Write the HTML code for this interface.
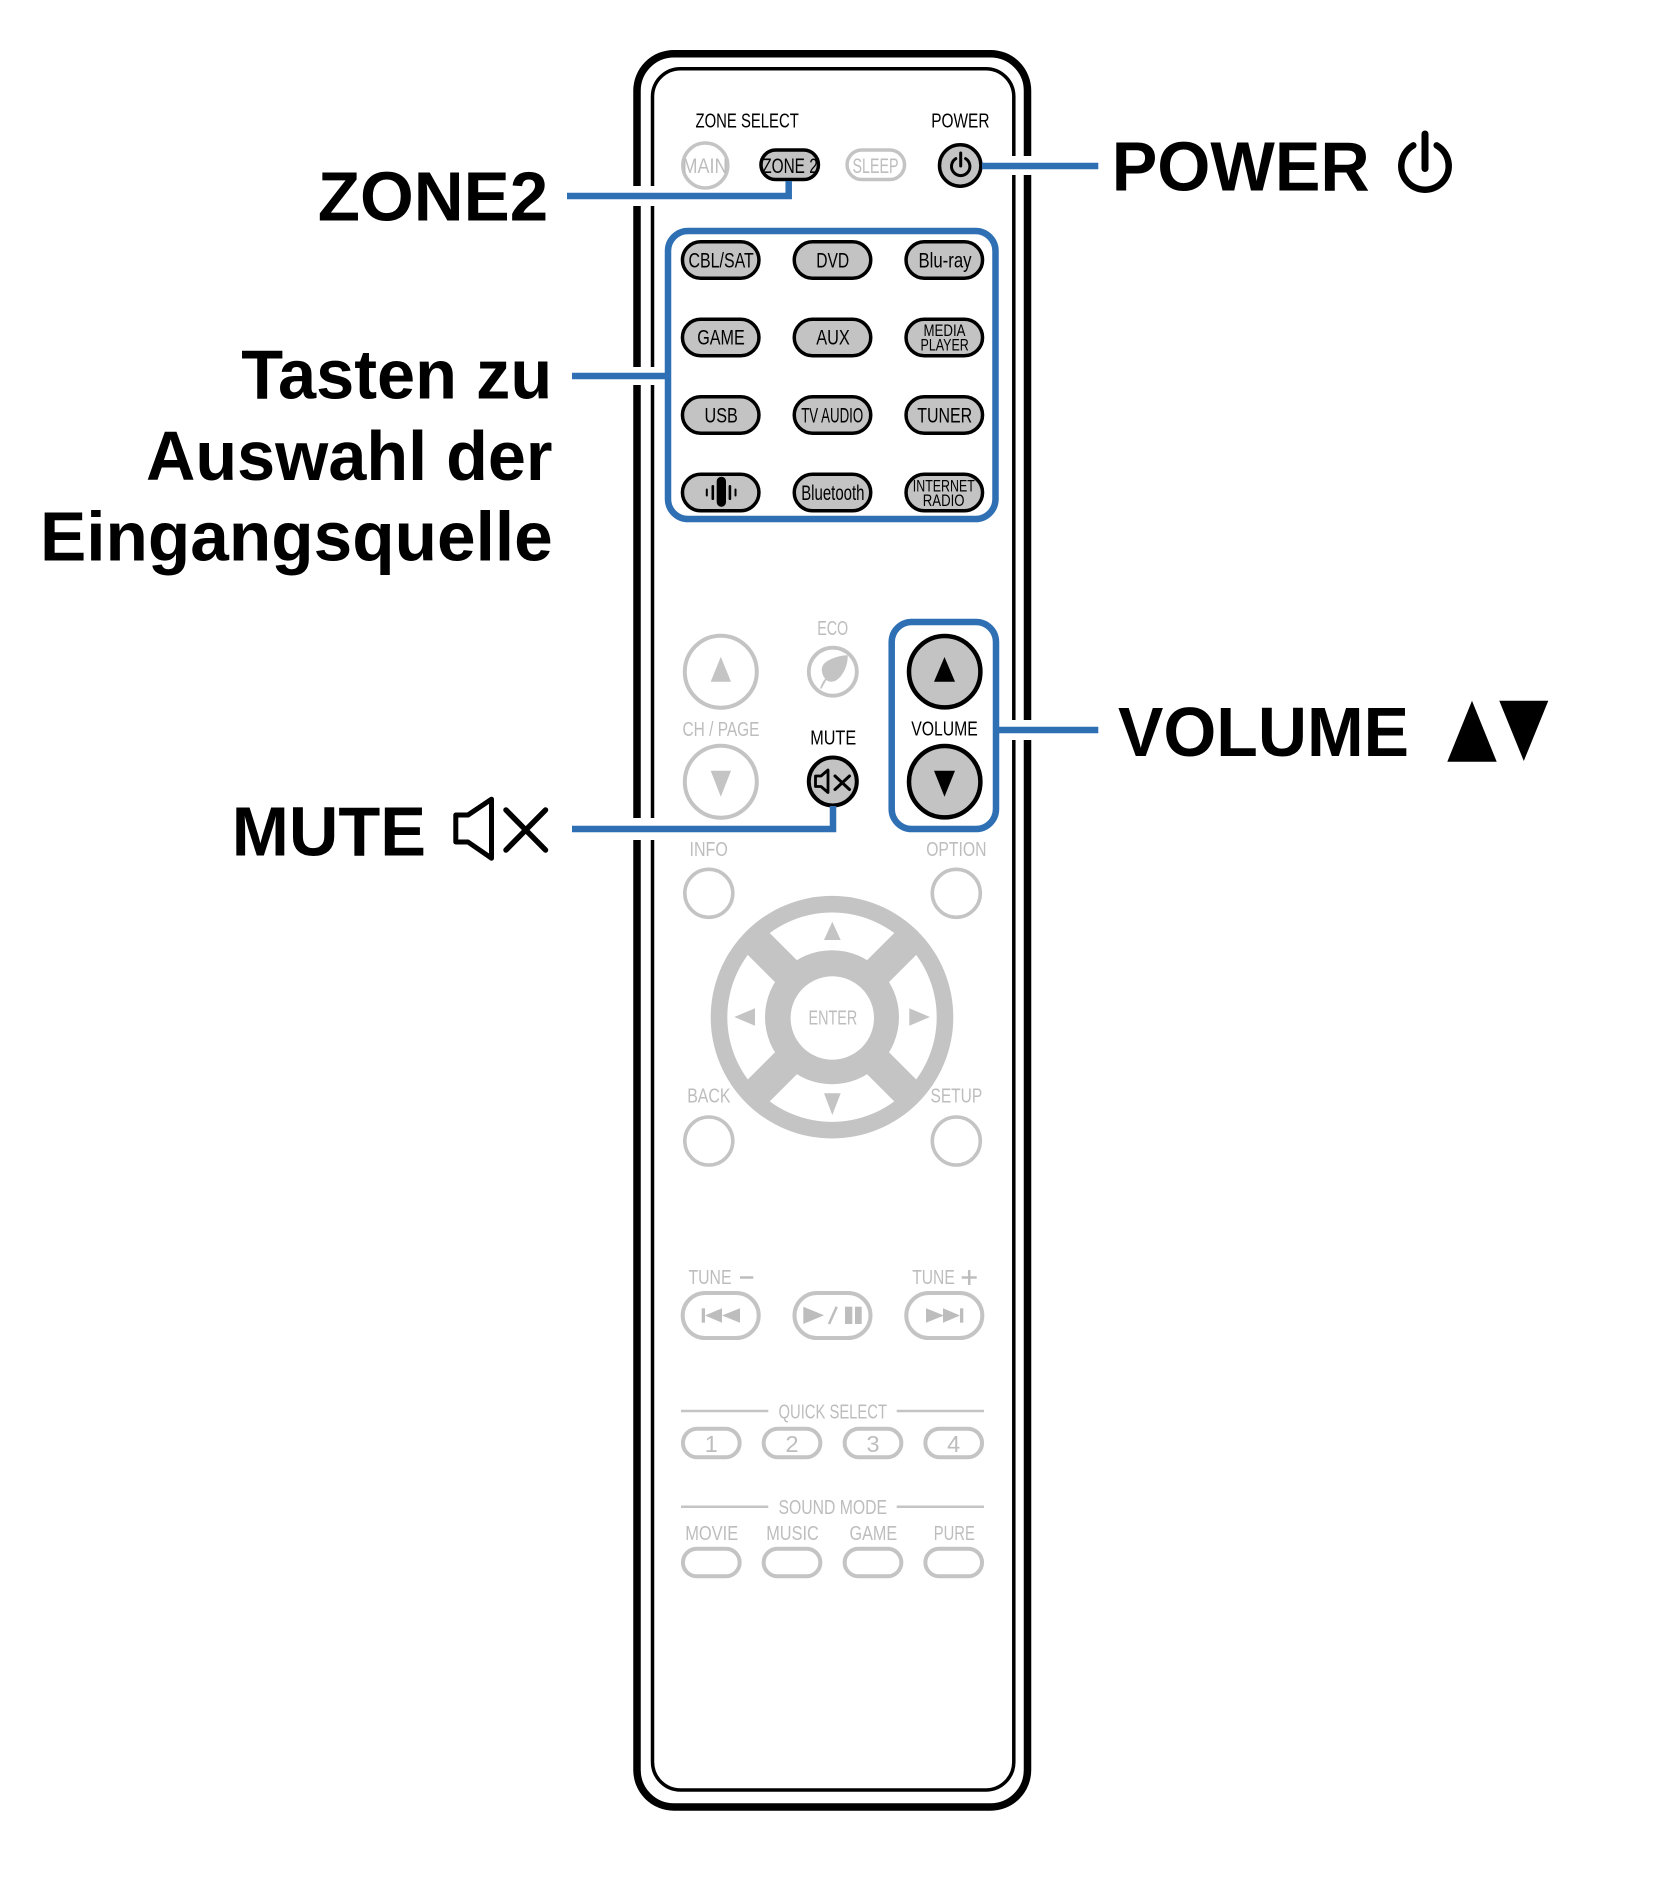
<!DOCTYPE html>
<html><head><meta charset="utf-8">
<style>
html,body{margin:0;padding:0;background:#fff;}
svg{display:block;}
.big{font-family:"Liberation Sans",Arial,sans-serif;font-weight:bold;font-size:70px;fill:#000;}
.s{font-family:"Liberation Sans Narrow","Liberation Sans",sans-serif;font-size:20px;}
.b{font-family:"Liberation Sans Narrow","Liberation Sans",sans-serif;font-size:21.5px;fill:#000;}
.k{fill:#000}
.g{fill:#bdbdbd}
</style></head><body>
<svg width="1665" height="1878" viewBox="0 0 1665 1878" xmlns="http://www.w3.org/2000/svg">
<rect width="1665" height="1878" fill="#fff"/>

<!-- Remote body -->
<rect x="637" y="53.7" width="390.5" height="1753.3" rx="37" fill="#fff" stroke="#000" stroke-width="7.5"/>
<rect x="652.5" y="68.7" width="361.3" height="1721.3" rx="28" fill="none" stroke="#000" stroke-width="3.5"/>

<!-- gaps where connectors cross border -->
<g fill="#fff">
<rect x="628" y="186" width="32" height="20"/>
<rect x="628" y="367" width="32" height="18"/>
<rect x="628" y="818" width="32" height="22"/>
<rect x="1007" y="156" width="30" height="19"/>
<rect x="1007" y="720" width="30" height="20"/>
</g>

<!-- Top labels -->
<text class="s k" x="695.5" y="127.3" textLength="103.3" lengthAdjust="spacingAndGlyphs">ZONE SELECT</text>
<text class="s k" x="931.2" y="127.3" textLength="58.3" lengthAdjust="spacingAndGlyphs">POWER</text>

<!-- Top buttons -->
<circle cx="705.3" cy="165.5" r="22.5" fill="#fff" stroke="#c4c4c4" stroke-width="3.5"/>
<text class="b g" x="682.5" y="173" textLength="45" lengthAdjust="spacingAndGlyphs">MAIN</text>
<rect x="760.95" y="150.05" width="57.5" height="29.5" rx="14.75" fill="#c3c3c3" stroke="#000" stroke-width="3.5"/>
<text class="b" x="762.2" y="173" textLength="55.6" lengthAdjust="spacingAndGlyphs">ZONE 2</text>
<rect x="847.05" y="150.05" width="57.5" height="29.5" rx="14.75" fill="#fff" stroke="#c4c4c4" stroke-width="3.5"/>
<text class="b g" x="852.5" y="173" textLength="46" lengthAdjust="spacingAndGlyphs">SLEEP</text>
<circle cx="960.2" cy="165.5" r="20.7" fill="#c3c3c3" stroke="#000" stroke-width="3.5"/>
<path d="M955.8,158.6 A9.2,9.2 0 1 0 965.6,158.6" fill="none" stroke="#000" stroke-width="3" stroke-linecap="round"/>
<line x1="960.7" y1="153" x2="960.7" y2="166" stroke="#000" stroke-width="3" stroke-linecap="round"/>

<!-- Input buttons -->
<g fill="#c3c3c3" stroke="#000" stroke-width="3.5">
<rect x="682.45" y="241.75" width="76.5" height="36.5" rx="18.25"/>
<rect x="794.25" y="241.75" width="76.5" height="36.5" rx="18.25"/>
<rect x="906.05" y="241.75" width="76.5" height="36.5" rx="18.25"/>
<rect x="682.45" y="319.25" width="76.5" height="36.5" rx="18.25"/>
<rect x="794.25" y="319.25" width="76.5" height="36.5" rx="18.25"/>
<rect x="906.05" y="319.25" width="76.5" height="36.5" rx="18.25"/>
<rect x="682.45" y="396.75" width="76.5" height="36.5" rx="18.25"/>
<rect x="794.25" y="396.75" width="76.5" height="36.5" rx="18.25"/>
<rect x="906.05" y="396.75" width="76.5" height="36.5" rx="18.25"/>
<rect x="682.45" y="474.25" width="76.5" height="36.5" rx="18.25"/>
<rect x="794.25" y="474.25" width="76.5" height="36.5" rx="18.25"/>
<rect x="906.05" y="474.25" width="76.5" height="36.5" rx="18.25"/>
</g>
<text class="b" x="688.5" y="267.7" textLength="65.3" lengthAdjust="spacingAndGlyphs">CBL/SAT</text>
<text class="b" x="816.2" y="267.7" textLength="33" lengthAdjust="spacingAndGlyphs">DVD</text>
<text class="b" x="918.5" y="267.7" textLength="53" lengthAdjust="spacingAndGlyphs">Blu-ray</text>
<text class="b" x="697.2" y="344.3" textLength="47.6" lengthAdjust="spacingAndGlyphs">GAME</text>
<text class="b" x="816.2" y="344.3" textLength="33.6" lengthAdjust="spacingAndGlyphs">AUX</text>
<text class="b" style="font-size:16.5px" x="923.5" y="336" textLength="42" lengthAdjust="spacingAndGlyphs">MEDIA</text>
<text class="b" style="font-size:16.5px" x="920.5" y="350.7" textLength="48.3" lengthAdjust="spacingAndGlyphs">PLAYER</text>
<text class="b" x="704.5" y="422.3" textLength="33.3" lengthAdjust="spacingAndGlyphs">USB</text>
<text class="b" x="801.2" y="422.3" textLength="62" lengthAdjust="spacingAndGlyphs">TV AUDIO</text>
<text class="b" x="917.2" y="422.3" textLength="55" lengthAdjust="spacingAndGlyphs">TUNER</text>
<text class="b" x="801.2" y="500" textLength="63.3" lengthAdjust="spacingAndGlyphs">Bluetooth</text>
<text class="b" style="font-size:17px" x="912.8" y="491.7" textLength="62" lengthAdjust="spacingAndGlyphs">INTERNET</text>
<text class="b" style="font-size:17px" x="922.8" y="506" textLength="41.7" lengthAdjust="spacingAndGlyphs">RADIO</text>
<!-- icon button -->
<g fill="#000">
<rect x="716.7" y="476.7" width="9.3" height="30" rx="4.6"/>
<rect x="711.5" y="485" width="2.6" height="15" rx="1.3"/>
<rect x="705.8" y="488.5" width="2" height="8" rx="1"/>
<rect x="728.6" y="485" width="2.6" height="15" rx="1.3"/>
<rect x="734.5" y="488.5" width="2" height="8" rx="1"/>
</g>

<!-- ECO / CH / MUTE / VOLUME -->
<text class="s g" x="817.2" y="635" textLength="31" lengthAdjust="spacingAndGlyphs">ECO</text>
<circle cx="832.8" cy="671.7" r="24" fill="#fff" stroke="#c4c4c4" stroke-width="3.8"/>
<path d="M821,688 Q823,682 826,679 Q817,666 831,660 Q840,656 847,656 Q847,667 840,676 Q833,684 826,679 Z" fill="#c4c4c4" stroke="#c4c4c4" stroke-width="1.5" stroke-linejoin="round"/>

<circle cx="720.8" cy="671.7" r="36" fill="#fff" stroke="#c4c4c4" stroke-width="4"/>
<polygon points="710.7,681.7 731,681.7 720.8,656.7" fill="#c4c4c4"/>
<text class="s g" x="682.5" y="736" textLength="77" lengthAdjust="spacingAndGlyphs">CH / PAGE</text>
<circle cx="720.8" cy="781.7" r="36" fill="#fff" stroke="#c4c4c4" stroke-width="4"/>
<polygon points="710.7,770.7 731,770.7 720.8,796.7" fill="#c4c4c4"/>

<text class="s k" x="810.2" y="744.3" textLength="46" lengthAdjust="spacingAndGlyphs">MUTE</text>
<circle cx="832.8" cy="781.5" r="24" fill="#c3c3c3" stroke="#000" stroke-width="4"/>
<path d="M815.5,776 H821 L828,770 V792.5 L821,786.5 H815.5 Z" fill="none" stroke="#000" stroke-width="2.8" stroke-linejoin="round"/>
<g stroke="#000" stroke-width="3" stroke-linecap="round"><line x1="835" y1="776" x2="849.5" y2="789.5"/><line x1="849.5" y1="776" x2="835" y2="789.5"/></g>

<circle cx="944.7" cy="671.7" r="35.7" fill="#c3c3c3" stroke="#000" stroke-width="4.5"/>
<polygon points="934,681.7 955,681.7 944.5,657" fill="#000"/>
<text class="s k" x="911.2" y="735.7" textLength="66.6" lengthAdjust="spacingAndGlyphs">VOLUME</text>
<circle cx="944.7" cy="781.7" r="35.7" fill="#c3c3c3" stroke="#000" stroke-width="4.5"/>
<polygon points="934,770.7 955,770.7 944.5,796.7" fill="#000"/>

<!-- INFO / OPTION -->
<text class="s g" x="689.5" y="856" textLength="38.3" lengthAdjust="spacingAndGlyphs">INFO</text>
<text class="s g" x="926.2" y="856" textLength="60.3" lengthAdjust="spacingAndGlyphs">OPTION</text>
<circle cx="708.8" cy="893.3" r="24" fill="#fff" stroke="#c4c4c4" stroke-width="3.6"/>
<circle cx="956.3" cy="893.3" r="24" fill="#fff" stroke="#c4c4c4" stroke-width="3.6"/>

<!-- Nav pad -->
<circle cx="832" cy="1017.2" r="121.3" fill="#c4c4c4"/>
<circle cx="832" cy="1017.2" r="104.7" fill="#fff"/>
<g stroke="#c4c4c4" stroke-width="31">
<line x1="754.2" y1="939.4" x2="909.8" y2="1095"/>
<line x1="909.8" y1="939.4" x2="754.2" y2="1095"/>
</g>
<circle cx="832" cy="1017.2" r="67" fill="#c4c4c4"/>
<circle cx="832.3" cy="1018" r="41.7" fill="#fff"/>
<g fill="#c4c4c4">
<polygon points="824,940 840.7,940 832.3,921.7"/>
<polygon points="824,1093.3 840.7,1093.3 832.3,1115"/>
<polygon points="755,1008.3 755,1025.7 734.3,1017"/>
<polygon points="909.3,1008.3 909.3,1025.7 930,1017"/>
</g>
<text class="s g" x="808.5" y="1024.3" textLength="48.7" lengthAdjust="spacingAndGlyphs">ENTER</text>

<!-- BACK / SETUP -->
<text class="s g" x="687.2" y="1102.7" textLength="43.3" lengthAdjust="spacingAndGlyphs">BACK</text>
<text class="s g" x="930.5" y="1102.7" textLength="51.7" lengthAdjust="spacingAndGlyphs">SETUP</text>
<circle cx="708.8" cy="1141" r="24" fill="#fff" stroke="#c4c4c4" stroke-width="3.6"/>
<circle cx="956.3" cy="1141" r="24" fill="#fff" stroke="#c4c4c4" stroke-width="3.6"/>

<!-- TUNE -->
<text class="s g" x="688.5" y="1284" textLength="43" lengthAdjust="spacingAndGlyphs">TUNE</text>
<line x1="740" y1="1277.5" x2="753.3" y2="1277.5" stroke="#bdbdbd" stroke-width="2.5"/>
<text class="s g" x="912.2" y="1284" textLength="42.6" lengthAdjust="spacingAndGlyphs">TUNE</text>
<g stroke="#bdbdbd" stroke-width="2.5"><line x1="961.7" y1="1277.5" x2="976.7" y2="1277.5"/><line x1="969.2" y1="1270" x2="969.2" y2="1285"/></g>
<g fill="#fff" stroke="#c4c4c4" stroke-width="4">
<rect x="682.7" y="1293" width="76" height="45" rx="22.5"/>
<rect x="794.5" y="1293" width="76" height="45" rx="22.5"/>
<rect x="906.3" y="1293" width="76" height="45" rx="22.5"/>
</g>
<g fill="#bdbdbd">
<rect x="701.7" y="1308.3" width="3.3" height="14.4"/>
<polygon points="705,1315.5 722,1308.3 722,1322.7"/>
<polygon points="722,1315.5 740,1308.3 740,1322.7"/>
<polygon points="803.3,1306.7 803.3,1324 824,1315.3"/>
<rect x="845" y="1306.7" width="7.3" height="17.3"/>
<rect x="855" y="1306.7" width="6.7" height="17.3"/>
<polygon points="926,1308.3 926,1322.7 944,1315.5"/>
<polygon points="943,1308.3 943,1322.7 960,1315.5"/>
<rect x="960" y="1308.3" width="3.3" height="14.4"/>
</g>
<line x1="836.7" y1="1306.7" x2="829" y2="1324" stroke="#bdbdbd" stroke-width="2.5"/>

<!-- QUICK SELECT -->
<g stroke="#c4c4c4" stroke-width="2.5">
<line x1="681" y1="1411" x2="768.3" y2="1411"/>
<line x1="896.7" y1="1411" x2="984" y2="1411"/>
<line x1="681" y1="1506.7" x2="768.3" y2="1506.7"/>
<line x1="896.7" y1="1506.7" x2="984" y2="1506.7"/>
</g>
<text class="s g" x="778.5" y="1418.3" textLength="108.5" lengthAdjust="spacingAndGlyphs">QUICK SELECT</text>
<g fill="#fff" stroke="#c4c4c4" stroke-width="4">
<rect x="682.95" y="1428.7" width="56.7" height="28.6" rx="14.3"/>
<rect x="763.65" y="1428.7" width="56.7" height="28.6" rx="14.3"/>
<rect x="844.65" y="1428.7" width="56.7" height="28.6" rx="14.3"/>
<rect x="925.35" y="1428.7" width="56.7" height="28.6" rx="14.3"/>
</g>
<g class="s g" style="font-size:23.5px" text-anchor="middle">
<text x="711.3" y="1452">1</text>
<text x="792" y="1452">2</text>
<text x="873" y="1452">3</text>
<text x="953.7" y="1452">4</text>
</g>

<!-- SOUND MODE -->
<text class="s g" x="778.5" y="1514" textLength="108.5" lengthAdjust="spacingAndGlyphs">SOUND MODE</text>
<text class="s g" x="685.2" y="1540" textLength="53" lengthAdjust="spacingAndGlyphs">MOVIE</text>
<text class="s g" x="766.2" y="1540" textLength="52.6" lengthAdjust="spacingAndGlyphs">MUSIC</text>
<text class="s g" x="849.5" y="1540" textLength="47.7" lengthAdjust="spacingAndGlyphs">GAME</text>
<text class="s g" x="933.8" y="1540" textLength="41" lengthAdjust="spacingAndGlyphs">PURE</text>
<g fill="#fff" stroke="#c4c4c4" stroke-width="4">
<rect x="682.95" y="1548.7" width="56.7" height="27.6" rx="13.8"/>
<rect x="763.65" y="1548.7" width="56.7" height="27.6" rx="13.8"/>
<rect x="844.65" y="1548.7" width="56.7" height="27.6" rx="13.8"/>
<rect x="925.35" y="1548.7" width="56.7" height="27.6" rx="13.8"/>
</g>

<!-- Blue highlight boxes -->
<g fill="none" stroke="#2f6fb4" stroke-width="6.5">
<rect x="668" y="231" width="327.5" height="288" rx="20"/>
<rect x="891.7" y="622" width="104.3" height="207" rx="20"/>
</g>

<!-- Connectors -->
<g fill="none" stroke="#2f6fb4" stroke-width="6.5">
<polyline points="567,196 788.7,196 788.7,181"/>
<line x1="572" y1="376" x2="668" y2="376"/>
<polyline points="572,829 833,829 833,806"/>
<line x1="982" y1="166" x2="1098.3" y2="166"/>
<line x1="996" y1="730" x2="1098.3" y2="730"/>
</g>

<!-- Big labels -->
<text class="big" x="317.8" y="220.7" textLength="230.4" lengthAdjust="spacingAndGlyphs">ZONE2</text>
<text class="big" x="241.2" y="398.3" textLength="311" lengthAdjust="spacingAndGlyphs">Tasten zu</text>
<text class="big" x="146" y="480" textLength="406.5" lengthAdjust="spacingAndGlyphs">Auswahl der</text>
<text class="big" x="40" y="560.5" textLength="512.7" lengthAdjust="spacingAndGlyphs">Eingangsquelle</text>
<text class="big" x="231.7" y="855.7" textLength="194.3" lengthAdjust="spacingAndGlyphs">MUTE</text>
<text class="big" x="1111.7" y="190.7" textLength="258" lengthAdjust="spacingAndGlyphs">POWER</text>
<text class="big" x="1118" y="756" textLength="291" lengthAdjust="spacingAndGlyphs">VOLUME</text>

<!-- Big mute icon -->
<path d="M455.8,815 H468 L491.5,799.2 V858.2 L468,842 H455.8 Z" fill="none" stroke="#000" stroke-width="5" stroke-linejoin="round"/>
<g stroke="#000" stroke-width="5.5" stroke-linecap="round">
<line x1="506" y1="810" x2="545.5" y2="850"/>
<line x1="545.5" y1="810" x2="506" y2="850"/>
</g>

<!-- Big power icon -->
<path d="M1413.3,145.4 A23.7,23.7 0 1 0 1436.7,145.4" fill="none" stroke="#000" stroke-width="6.5" stroke-linecap="round"/>
<line x1="1425" y1="134" x2="1425" y2="168.5" stroke="#000" stroke-width="7" stroke-linecap="round"/>

<!-- Volume triangles -->
<polygon points="1447.3,761.7 1496.7,761.7 1472,700.7" fill="#000"/>
<polygon points="1499.3,700.7 1548.3,700.7 1523.8,761" fill="#000"/>
</svg>
</body></html>
